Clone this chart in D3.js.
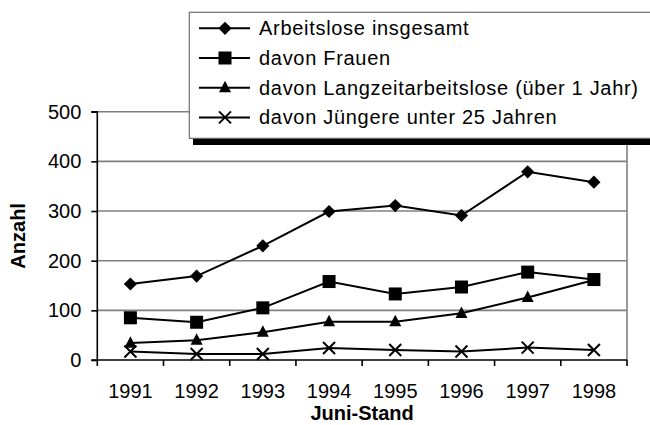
<!DOCTYPE html>
<html>
<head>
<meta charset="utf-8">
<script src="https://cdn.jsdelivr.net/npm/d3@7"></script>
<style>
  html, body { margin: 0; padding: 0; background: #fff; }
  svg { display: block; font-family: "Liberation Sans", Arial, sans-serif; }
</style>
</head>
<body>
<svg id="chart" width="650" height="425"></svg>
<script>
// Arbeitslose im Juni, 1991–1998
const years = ["1991", "1992", "1993", "1994", "1995", "1996", "1997", "1998"];
const insgesamt = [153, 169, 230, 299, 311, 291, 379, 358];
const frauen = [85, 76, 105, 158, 133, 147, 177, 162];
const langzeit = [34, 40, 56, 77, 77, 94, 126, 161];
const juengere = [17, 12, 12, 24, 20, 17, 25, 20];
const yTicks = [0, 100, 200, 300, 400, 500];

const seriesNames = [
  "Arbeitslose insgesamt",
  "davon Frauen",
  "davon Langzeitarbeitslose (über 1 Jahr)",
  "davon Jüngere unter 25 Jahren"
];
const seriesValues = [insgesamt, frauen, langzeit, juengere];
const markerTypes = ["diamond", "square", "triangle", "cross"];

const svg = d3.select("#chart");
const plot = { left: 97.3, right: 627, top: 111.7, bottom: 360 };
const fontFamily = "'Liberation Sans', Arial, sans-serif";

const x = d3.scaleBand().domain(years).range([plot.left, plot.right]);
const y = d3.scaleLinear().domain([0, 500]).range([plot.bottom, plot.top]);

// Horizontal gridlines and right border of the plot area
svg.append("g").selectAll("line").data(yTicks.filter(d => d > 0)).join("line")
  .attr("x1", plot.left).attr("x2", plot.right)
  .attr("y1", d => y(d)).attr("y2", d => y(d))
  .attr("stroke", "#808080").attr("stroke-width", 1.6);
svg.append("line")
  .attr("x1", plot.right).attr("x2", plot.right)
  .attr("y1", plot.top).attr("y2", plot.bottom)
  .attr("stroke", "#808080").attr("stroke-width", 1.6);

// Marker shapes
function drawMarker(g, type, cx, cy) {
  if (type === "diamond") {
    const r = 6.6;
    g.append("path").attr("d", `M${cx},${cy - r}L${cx + r},${cy}L${cx},${cy + r}L${cx - r},${cy}Z`)
      .attr("fill", "#000");
  } else if (type === "square") {
    const s = 13;
    g.append("rect").attr("x", cx - s / 2).attr("y", cy - s / 2).attr("width", s).attr("height", s)
      .attr("fill", "#000");
  } else if (type === "triangle") {
    const w = 12, h = 11.5;
    g.append("path").attr("d", `M${cx},${cy - h * 0.6}L${cx + w / 2},${cy + h * 0.4}L${cx - w / 2},${cy + h * 0.4}Z`)
      .attr("fill", "#000");
  } else {
    const r = 6;
    g.append("path").attr("d", `M${cx - r},${cy - r}L${cx + r},${cy + r}M${cx - r},${cy + r}L${cx + r},${cy - r}`)
      .attr("stroke", "#000").attr("stroke-width", 2).attr("fill", "none");
  }
}

const line = d3.line()
  .x((d, i) => x(years[i]) + x.bandwidth() / 2)
  .y(d => y(d));

seriesValues.forEach((vals, k) => {
  const g = svg.append("g");
  g.append("path").attr("d", line(vals))
    .attr("fill", "none").attr("stroke", "#000").attr("stroke-width", 2);
  vals.forEach((v, i) => drawMarker(g, markerTypes[k], x(years[i]) + x.bandwidth() / 2, y(v)));
});

// Axes
const yAxis = d3.axisLeft(y).tickValues(yTicks).tickSize(6).tickPadding(10);
const gy = svg.append("g").attr("transform", `translate(${plot.left},0)`).call(yAxis);
gy.select(".domain").attr("stroke", "#000").attr("stroke-width", 1.6)
  .attr("d", `M-6,${plot.top}H0V${plot.bottom}H-6`);
gy.selectAll(".tick line").attr("stroke", "#000").attr("stroke-width", 1.6);
gy.selectAll(".tick text").attr("font-size", 20).attr("fill", "#000")
  .attr("font-family", fontFamily);

const xAxis = d3.axisBottom(x).tickSize(0).tickPadding(24);
const gx = svg.append("g").attr("transform", `translate(0,${plot.bottom})`).call(xAxis);
gx.select(".domain").attr("stroke", "#000").attr("stroke-width", 1.6)
  .attr("d", `M${plot.left},0H${plot.right}`);
gx.selectAll(".tick text").attr("font-size", 20).attr("fill", "#000")
  .attr("font-family", fontFamily);
// Category boundary ticks
svg.append("g").selectAll("line").data(years.concat(["end"])).join("line")
  .attr("x1", (d, i) => plot.left + i * x.bandwidth())
  .attr("x2", (d, i) => plot.left + i * x.bandwidth())
  .attr("y1", plot.bottom).attr("y2", plot.bottom + 6)
  .attr("stroke", "#000").attr("stroke-width", 1.6);

// Axis titles
svg.append("text").attr("x", (plot.left + plot.right) / 2).attr("y", 420)
  .attr("text-anchor", "middle").attr("font-size", 20).attr("font-weight", "bold")
  .text("Juni-Stand");
svg.append("text")
  .attr("transform", `translate(25,${(plot.top + plot.bottom) / 2}) rotate(-90)`)
  .attr("text-anchor", "middle").attr("font-size", 20).attr("font-weight", "bold")
  .text("Anzahl");

// Legend with drop shadow
const lg = svg.append("g");
lg.append("rect").attr("x", 193).attr("y", 18).attr("width", 500).attr("height", 127).attr("fill", "#000");
lg.append("rect").attr("x", 189.3).attr("y", 12.3).attr("width", 500).attr("height", 126)
  .attr("fill", "#fff").attr("stroke", "#6e6e6e").attr("stroke-width", 1.2);
seriesNames.forEach((name, k) => {
  const ly = 28.3 + k * 29.7;
  lg.append("line").attr("x1", 199).attr("x2", 250).attr("y1", ly).attr("y2", ly)
    .attr("stroke", "#000").attr("stroke-width", 2);
  drawMarker(lg, markerTypes[k], 225, ly);
  lg.append("text").attr("x", 259).attr("y", ly + 7).attr("font-size", 20)
    .attr("letter-spacing", 0.7).attr("fill", "#000").text(name);
});
</script>
</body>
</html>
